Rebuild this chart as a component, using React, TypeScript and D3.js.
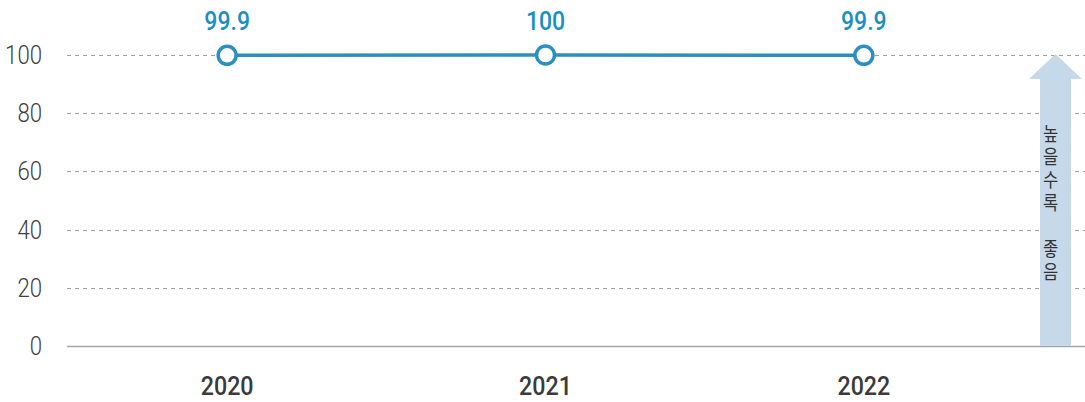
import * as d3 from 'd3'
import { useEffect, useRef } from 'react'

const years = ['2020', '2021', '2022']
const values = [99.9, 100, 99.9]
const valueLabels = ['99.9', '100', '99.9']
const yTicks = [0, 20, 40, 60, 80, 100]
const arrowText = '높을수록 좋음'

const App = () => {
  const ref = useRef<SVGSVGElement>(null)

  useEffect(() => {
    const width = 1085
    const height = 402
    const margin = { top: 55, right: 62, bottom: 56, left: 68 }
    const svg = d3.select(ref.current)
    svg.selectAll('*').remove()
    svg.attr('width', width).attr('height', height)

    const font = 'Roboto, "Noto Sans", sans-serif'

    const x = d3
      .scaleBand()
      .domain(years)
      .range([margin.left, width - margin.right])
    const y = d3
      .scaleLinear()
      .domain([0, 100])
      .range([height - margin.bottom, margin.top])

    // grid
    svg
      .append('g')
      .selectAll('line')
      .data(yTicks)
      .join('line')
      .attr('x1', margin.left - 1)
      .attr('x2', width)
      .attr('y1', (d) => Math.round(y(d)) + 0.5)
      .attr('y2', (d) => Math.round(y(d)) + 0.5)
      .attr('stroke', (d) => (d === 0 ? '#a6a6a6' : '#a0a0a0'))
      .attr('stroke-width', (d) => (d === 0 ? 1.5 : 1))
      .attr('stroke-dasharray', (d) => (d === 0 ? null : '4,4'))

    // y tick labels (condensed look)
    svg
      .append('g')
      .selectAll('text')
      .data(yTicks)
      .join('text')
      .attr('transform', (d) => `translate(42,${y(d) + 9}) scale(0.87,1)`)
      .attr('text-anchor', 'end')
      .attr('font-family', font)
      .attr('font-weight', 300)
      .attr('font-size', 25.5)
      .attr('fill', '#404040')
      .text((d) => d)

    // x labels
    svg
      .append('g')
      .selectAll('text')
      .data(years)
      .join('text')
      .attr('transform', (d) => `translate(${x(d)! + x.bandwidth() / 2},395) scale(0.93,1)`)
      .attr('text-anchor', 'middle')
      .attr('font-family', font)
      .attr('font-weight', 500)
      .attr('font-size', 25)
      .attr('fill', '#3a3a3a')
      .text((d) => d)

    // arrow
    const ax = 1055.5
    const arrowTop = y(100) - 1
    const arrowBottom = y(0)
    const arrow = d3.path()
    arrow.moveTo(ax, arrowTop)
    arrow.lineTo(ax + 26.5, arrowTop + 25)
    arrow.lineTo(ax + 15.5, arrowTop + 25)
    arrow.lineTo(ax + 15.5, arrowBottom)
    arrow.lineTo(ax - 15.5, arrowBottom)
    arrow.lineTo(ax - 15.5, arrowTop + 25)
    arrow.lineTo(ax - 26.5, arrowTop + 25)
    arrow.closePath()
    svg.append('path').attr('d', arrow.toString()).attr('fill', '#c6d9eb')

    // vertical label: upright glyphs in vertical writing mode
    svg
      .append('text')
      .attr('transform', 'translate(1050.5,204) scale(0.85,1)')
      .attr('text-anchor', 'middle')
      .attr('writing-mode', 'vertical-rl')
      .style('writing-mode', 'vertical-rl')
      .style('text-orientation', 'upright')
      .attr('letter-spacing', 3.5)
      .attr('font-family', '"Noto Sans CJK KR", sans-serif')
      .attr('font-size', 19.5)
      .attr('fill', '#333')
      .text(arrowText)

    // line
    const pts = years.map((yr, i) => [x(yr)! + x.bandwidth() / 2, y(values[i])] as [number, number])
    svg
      .append('path')
      .attr('d', d3.line()(pts))
      .attr('fill', 'none')
      .attr('stroke', '#2b8fbf')
      .attr('stroke-width', 3.5)

    svg
      .append('g')
      .selectAll('circle')
      .data(pts)
      .join('circle')
      .attr('cx', (d) => d[0])
      .attr('cy', (d) => d[1])
      .attr('r', 9)
      .attr('fill', '#fff')
      .attr('stroke', '#2b8fbf')
      .attr('stroke-width', 3.5)

    svg
      .append('g')
      .selectAll('text')
      .data(pts)
      .join('text')
      .attr('transform', (d) => `translate(${d[0]},30) scale(0.92,1)`)
      .attr('text-anchor', 'middle')
      .attr('font-family', font)
      .attr('font-weight', 500)
      .attr('font-size', 25)
      .attr('fill', '#1a8fc2')
      .text((d, i) => valueLabels[i])
  }, [])

  return (
    <div style={{ position: 'absolute', left: 0, top: 0 }}>
      <svg ref={ref} style={{ display: 'block' }}></svg>
    </div>
  )
}

export default App
